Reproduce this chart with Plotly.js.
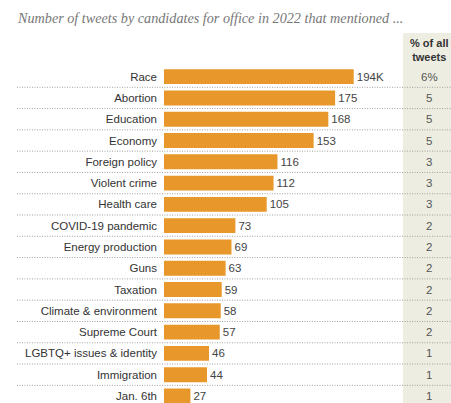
<!DOCTYPE html>
<html><head><meta charset="utf-8">
<script src="https://cdn.plot.ly/plotly-3.0.1.min.js"></script>
<style>html,body{margin:0;padding:0;background:#fff;}#chart{width:451px;height:403px;}</style>
</head><body><div id="chart"></div>
<script>
const categories = ["Race","Abortion","Education","Economy","Foreign policy","Violent crime","Health care","COVID-19 pandemic","Energy production","Guns","Taxation","Climate & environment","Supreme Court","LGBTQ+ issues & identity","Immigration","Jan. 6th"];
const tweetsK = [194,175,168,153,116,112,105,73,69,63,59,58,57,46,44,27];
const pctAll = [6,5,5,5,3,3,3,2,2,2,2,2,2,1,1,1];
const subtitle = "Number of tweets by candidates for office in 2022 that mentioned ...";
const pctHeader = "% of all<br>tweets";

const W = 451, H = 403;
const L = 164, T = 66;
const plotW = W - L, plotH = H - T;
const px = p => (p - L) / plotW;      // pixel x -> paper
const py = p => (H - p) / plotH;      // pixel y -> paper

const valueText = tweetsK.map((v,i) => i === 0 ? v + "K" : String(v));

const trace = {
  type: "bar", orientation: "h",
  x: tweetsK, y: categories,
  marker: {color: "#E8972A"},
  text: valueText, textposition: "outside", cliponaxis: false,
  textfont: {family: "Liberation Sans, Arial, sans-serif", size: 11.5, color: "#444"},
  hoverinfo: "none"
};

const shapes = [];
shapes.push({type: "rect", xref: "paper", yref: "paper", x0: px(403), x1: 1.01, y0: -0.05, y1: py(33),
  fillcolor: "#EDEDE1", line: {width: 0}, layer: "below"});
for (let i = 0; i < categories.length - 1; i++) {
  shapes.push({type: "line", xref: "paper", yref: "y", x0: px(17), x1: 1.01, y0: i + 0.5, y1: i + 0.5,
    line: {color: "#a0a0a0", width: 1, dash: "1px,1.5px"}, layer: "above"});
}

const annotations = [];
annotations.push({xref: "paper", yref: "paper", x: px(15), y: py(18), xanchor: "left", yanchor: "middle",
  text: "<i>" + subtitle + "</i>", showarrow: false,
  font: {family: "Liberation Serif, Georgia, serif", size: 14.2, color: "#777"}});
annotations.push({xref: "paper", yref: "paper", x: px(429), y: py(50), xanchor: "center", yanchor: "middle",
  text: "<b>" + pctHeader + "</b>", showarrow: false,
  font: {family: "Liberation Sans, Arial, sans-serif", size: 11, color: "#333"}});
categories.forEach((c, i) => {
  annotations.push({xref: "paper", yref: "y", x: px(429), y: c, xanchor: "center", yanchor: "middle",
    text: i === 0 ? pctAll[i] + "%" : String(pctAll[i]), showarrow: false,
    font: {family: "Liberation Sans, Arial, sans-serif", size: 11.5, color: "#555"}});
});

const layout = {
  width: W, height: H,
  margin: {l: L, r: 0, t: T, b: 0, pad: 0},
  paper_bgcolor: "#fff", plot_bgcolor: "rgba(0,0,0,0)",
  showlegend: false, bargap: 0.3,
  xaxis: {range: [0, plotW / 0.978], visible: false, fixedrange: true},
  yaxis: {type: "category", categoryorder: "array", categoryarray: categories,
    range: [15.33, -0.5], showgrid: false, zeroline: false, showline: false, ticks: "",
    ticklabelstandoff: 6, automargin: false,
    tickfont: {family: "Liberation Sans, Arial, sans-serif", size: 11.5, color: "#333"}},
  shapes: shapes, annotations: annotations
};

Plotly.newPlot("chart", [trace], layout, {displayModeBar: false, staticPlot: true});
</script></body></html>
